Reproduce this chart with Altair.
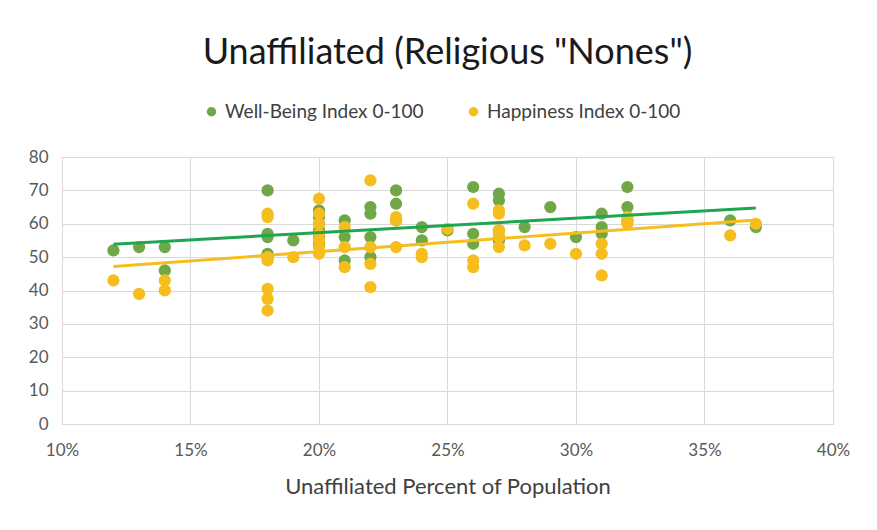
import altair as alt
import pandas as pd

# Unaffiliated share of population (fraction) and index values
wb_pct = [0.12, 0.13, 0.14, 0.14,
          0.18, 0.18, 0.18, 0.18, 0.18,
          0.19,
          0.20, 0.20, 0.20, 0.20, 0.20, 0.20,
          0.21, 0.21, 0.21,
          0.22, 0.22, 0.22, 0.22,
          0.23, 0.23, 0.23,
          0.24, 0.24,
          0.25,
          0.26, 0.26, 0.26,
          0.27, 0.27, 0.27, 0.27, 0.27,
          0.28, 0.29, 0.30,
          0.31, 0.31, 0.31,
          0.32, 0.32, 0.32,
          0.36, 0.37]
wb_val = [52, 53, 53, 46,
          70, 57, 56, 51, 50,
          55,
          64, 62, 60, 58, 56, 54,
          61, 56, 49,
          65, 63, 56, 50,
          70, 66, 61,
          59, 55,
          58,
          71, 57, 54,
          69, 67, 58, 56, 55,
          59, 65, 56,
          63, 59, 57,
          71, 65, 61,
          61, 59]

hp_pct = [0.12, 0.13, 0.14, 0.14,
          0.18, 0.18, 0.18, 0.18, 0.18, 0.18, 0.18,
          0.19,
          0.20, 0.20, 0.20, 0.20, 0.20, 0.20, 0.20,
          0.21, 0.21, 0.21,
          0.22, 0.22, 0.22, 0.22,
          0.23, 0.23, 0.23,
          0.24, 0.24,
          0.25,
          0.26, 0.26, 0.26,
          0.27, 0.27, 0.27, 0.27, 0.27,
          0.28, 0.29, 0.30,
          0.31, 0.31, 0.31,
          0.32, 0.32, 0.32,
          0.36, 0.37]
hp_val = [43, 39, 43, 40,
          63, 62, 50, 49, 40.5, 37.5, 34,
          50,
          67.5, 63, 60, 57, 55, 53, 51,
          59, 53, 47,
          73, 53, 48, 41,
          62, 61, 53,
          51, 50,
          58.5,
          66, 49, 47,
          64, 63, 58, 56, 53,
          53.5, 54, 51,
          54, 51, 44.5,
          62, 60.5, 60,
          56.5, 60]

series_names = ["Well-Being Index 0-100", "Happiness Index 0-100"]
point_colors = ["#70A848", "#F5BE1E"]
line_colors = ["#1EA650", "#F5BE1E"]
x_ticks = [0.10, 0.15, 0.20, 0.25, 0.30, 0.35, 0.40]
y_ticks = [0, 10, 20, 30, 40, 50, 60, 70, 80]

df = pd.concat([
    pd.DataFrame({"pct": wb_pct, "value": wb_val, "series": series_names[0], "ord": 0}),
    pd.DataFrame({"pct": hp_pct, "value": hp_val, "series": series_names[1], "ord": 1}),
], ignore_index=True)

FONT = "Lato"

x_enc = alt.X("pct:Q", scale=alt.Scale(domain=[0.10, 0.40], nice=False),
              axis=alt.Axis(values=x_ticks, format=".0%", title="Unaffiliated Percent of Population",
                            labelPadding=18, titlePadding=18, labelFontSize=17, titleFontSize=22,
                            labelColor="#595959", titleColor="#404040", titleFontWeight="normal",
                            labelFont=FONT, titleFont=FONT, ticks=False,
                            domainColor="#D9D9D9", gridColor="#D9D9D9", labelFlush=False))
y_enc = alt.Y("value:Q", scale=alt.Scale(domain=[0, 80], nice=False),
              axis=alt.Axis(values=y_ticks, tickCount=9, title=None, labelPadding=14,
                            labelFontSize=17, labelColor="#595959", labelFont=FONT, ticks=False,
                            labelOverlap=False,
                            domainColor="#D9D9D9", gridColor="#D9D9D9"))

points = alt.Chart(df).mark_circle(size=150, opacity=1).encode(
    x=x_enc, y=y_enc,
    color=alt.Color("series:N", scale=alt.Scale(domain=series_names, range=point_colors),
                    legend=alt.Legend(title=None, orient="none", legendX=140, legendY=-55,
                                      direction="horizontal", columns=2, columnPadding=40,
                                      symbolType="circle", symbolSize=90, labelFontSize=19,
                                      labelFont=FONT, labelColor="#404040", labelLimit=400)),
    order=alt.Order("ord:Q"),
)

lines = alt.Chart(df).transform_regression(
    "pct", "value", groupby=["series"]
).mark_line(strokeWidth=3).encode(
    x=x_enc, y=y_enc,
    color=alt.Color("series:N", scale=alt.Scale(domain=series_names, range=line_colors), legend=None),
)

chart = alt.layer(points, lines).resolve_scale(color="independent").properties(
    width=771, height=267,
    title=alt.TitleParams('Unaffiliated (Religious "Nones")', fontSize=36, font=FONT,
                          fontWeight="normal", color="#1a1a1a", anchor="middle", offset=30),
    autosize=alt.AutoSizeParams(type="none"),
    padding={"left": 54, "top": 149, "right": 30, "bottom": 98},
).configure_view(stroke=None)

chart.save("out.html", embed_options={"renderer": "svg", "actions": False})
